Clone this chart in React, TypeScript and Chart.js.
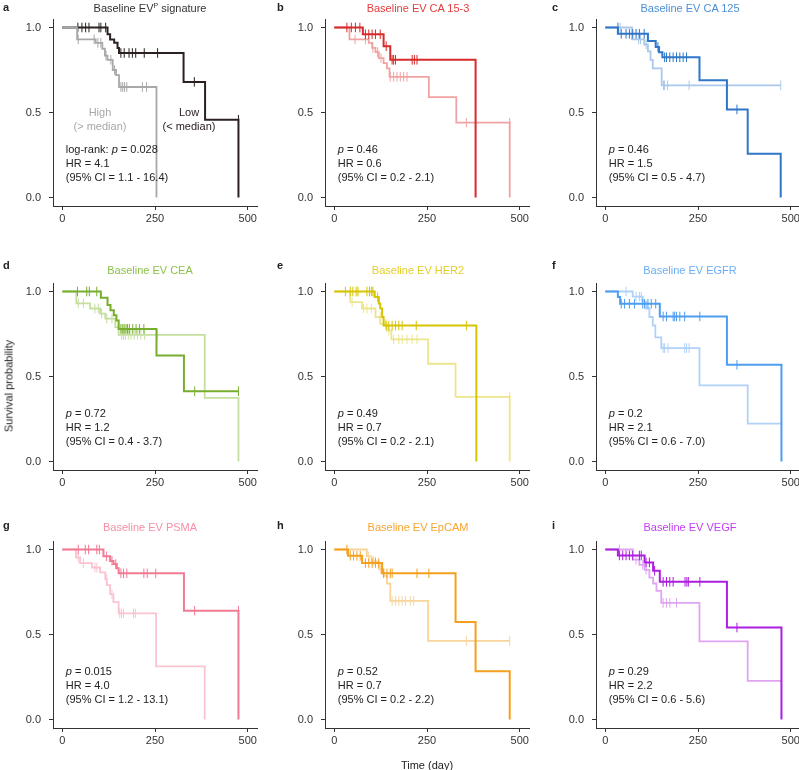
import React, { useEffect, useRef } from 'react';
import { Chart, registerables } from 'chart.js';
Chart.register(...registerables);

const FONT = '"Liberation Sans", Arial, Helvetica, sans-serif';

// Axis ticks
const xTicks = [0, 250, 500];
const yTicks = [0, 0.5, 1];

// ---- Panel a: Baseline EV^P signature ----
const aLowDay = [0, 122, 129, 140, 149, 153, 327, 385, 475];
const aLowSurv = [1, 0.96, 0.93, 0.91, 0.88, 0.85, 0.68, 0.457, 0];
const aLowCensor = [42, 53, 63, 72, 99, 104, 117, 158, 167, 180, 189, 198, 221, 257, 356, 475];
const aHighDay = [0, 40, 90, 108, 115, 122, 136, 145, 153, 254];
const aHighSurv = [1, 0.93, 0.91, 0.875, 0.835, 0.81, 0.75, 0.72, 0.65, 0];
const aHighCensor = [43, 86, 96, 104, 118, 131, 141, 158, 163, 168, 174, 216, 227];

// ---- Panel b: CA 15-3 ----
const bLowDay = [0, 77, 133, 151, 381];
const bLowSurv = [1, 0.96, 0.89, 0.81, 0];
const bLowCensor = [34, 46, 57, 69, 84, 93, 102, 111, 124, 140, 156, 160, 165, 210, 216, 223];
const bHighDay = [0, 41, 93, 102, 111, 120, 133, 142, 149, 255, 329, 473];
const bHighSurv = [1, 0.93, 0.91, 0.88, 0.855, 0.82, 0.79, 0.76, 0.71, 0.59, 0.44, 0];
const bHighCensor = [56, 84, 104, 117, 126, 151, 160, 169, 178, 187, 196, 356, 473];

// ---- Panel c: CA 125 ----
const cLowDay = [0, 34, 115, 136, 145, 154, 254, 328, 384, 473];
const cLowSurv = [1, 0.963, 0.92, 0.885, 0.855, 0.825, 0.69, 0.518, 0.257, 0];
const cLowCensor = [34, 43, 56, 65, 74, 83, 92, 105, 142, 160, 165, 174, 183, 192, 201, 210, 219, 355];
const cHighDay = [0, 72, 105, 115, 122, 128, 152, 473];
const cHighSurv = [1, 0.93, 0.9, 0.86, 0.81, 0.76, 0.66, 0.66];
const cHighCensor = [40, 90, 95, 110, 157, 160, 168, 226, 473];

// ---- Panel d: CEA ----
const dLowDay = [0, 104, 122, 130, 139, 146, 152, 254, 328, 475];
const dLowSurv = [1, 0.963, 0.92, 0.89, 0.86, 0.83, 0.78, 0.624, 0.413, 0.413];
const dLowCensor = [41, 66, 73, 93, 158, 163, 167, 172, 176, 181, 190, 199, 208, 220, 357, 475];
const dHighDay = [0, 38, 75, 102, 116, 143, 152, 384, 475];
const dHighSurv = [1, 0.93, 0.9, 0.87, 0.84, 0.79, 0.745, 0.374, 0];
const dHighCensor = [43, 57, 88, 97, 106, 120, 134, 160, 165, 170, 178, 185, 194, 203, 212, 222, 256];

// ---- Panel e: HER2 ----
const eLowDay = [0, 109, 120, 124, 129, 133, 383];
const eLowSurv = [1, 0.967, 0.93, 0.9, 0.85, 0.8, 0];
const eLowCensor = [30, 43, 50, 59, 64, 88, 95, 100, 104, 117, 140, 147, 156, 165, 174, 183, 221, 356];
const eHighDay = [0, 43, 75, 111, 124, 142, 154, 253, 327, 473];
const eHighSurv = [1, 0.937, 0.9, 0.85, 0.81, 0.77, 0.718, 0.575, 0.38, 0];
const eHighCensor = [48, 79, 88, 100, 124, 138, 147, 160, 174, 183, 196, 210, 223, 473];

// ---- Panel f: EGFR ----
const fLowDay = [0, 34, 40, 147, 328, 475];
const fLowSurv = [1, 0.967, 0.928, 0.853, 0.569, 0];
const fLowCensor = [43, 52, 65, 79, 101, 106, 115, 124, 136, 156, 165, 183, 187, 192, 201, 214, 255, 355];
const fHighDay = [0, 74, 101, 110, 119, 128, 135, 151, 254, 384, 475];
const fHighSurv = [1, 0.97, 0.94, 0.9, 0.85, 0.8, 0.73, 0.667, 0.448, 0.223, 0.223];
const fHighCensor = [56, 83, 92, 97, 156, 160, 169, 214, 219, 226, 475];

// ---- Panel g: PSMA ----
const gLowDay = [0, 111, 129, 138, 147, 152, 328, 475];
const gLowSurv = [1, 0.96, 0.933, 0.914, 0.89, 0.86, 0.64, 0];
const gLowCensor = [43, 62, 71, 93, 100, 119, 134, 144, 158, 165, 174, 220, 229, 252, 357, 475];
const gHighDay = [0, 37, 48, 80, 102, 116, 120, 129, 138, 152, 253, 384];
const gHighSurv = [1, 0.953, 0.92, 0.894, 0.865, 0.825, 0.79, 0.737, 0.69, 0.624, 0.312, 0];
const gHighCensor = [43, 57, 88, 93, 120, 134, 155, 160, 165, 192, 197];

// ---- Panel h: EpCAM ----
const hLowDay = [0, 37, 75, 129, 327, 381, 473];
const hLowSurv = [1, 0.963, 0.92, 0.86, 0.573, 0.284, 0];
const hLowCensor = [34, 43, 52, 61, 70, 84, 93, 102, 111, 120, 133, 142, 151, 156, 223, 255];
const hHighDay = [0, 88, 101, 120, 133, 142, 151, 253, 473];
const hHighSurv = [1, 0.96, 0.93, 0.885, 0.845, 0.8, 0.698, 0.463, 0.463];
const hHighCensor = [93, 106, 111, 124, 156, 165, 174, 183, 192, 205, 214, 356, 473];

// ---- Panel i: VEGF ----
const iLowDay = [0, 34, 106, 129, 147, 328, 475];
const iLowSurv = [1, 0.965, 0.924, 0.875, 0.81, 0.541, 0];
const iLowCensor = [38, 47, 56, 65, 74, 92, 97, 110, 119, 133, 156, 165, 174, 183, 215, 220, 224, 255, 355];
const iHighDay = [0, 74, 92, 106, 119, 129, 138, 151, 254, 384, 475];
const iHighSurv = [1, 0.94, 0.91, 0.88, 0.835, 0.8, 0.757, 0.686, 0.46, 0.227, 0.227];
const iHighCensor = [38, 83, 92, 101, 110, 156, 165, 174, 192, 475];

// Panel text
const panelLetters = ['a', 'b', 'c', 'd', 'e', 'f', 'g', 'h', 'i'];
const panelMarkers = ['', 'CA 15-3', 'CA 125', 'CEA', 'HER2', 'EGFR', 'PSMA', 'EpCAM', 'VEGF'];
const pValues = ['0.028', '0.46', '0.46', '0.72', '0.49', '0.2', '0.015', '0.52', '0.29'];
const hrValues = ['4.1', '0.6', '1.5', '1.2', '0.7', '2.1', '4.0', '0.7', '2.2'];
const ciValues = ['1.1 - 16.4', '0.2 - 2.1', '0.5 - 4.7', '0.4 - 3.7', '0.2 - 2.1', '0.6 - 7.0', '1.2 - 13.1', '0.2 - 2.2', '0.6 - 5.6'];
const lowColors = ['#2b2121', '#d62b2b', '#2f76c8', '#77ae2e', '#d6c400', '#4e9df0', '#f27a93', '#f4a01e', '#ac1ee0'];
const highColors = ['#a8a8a8', '#f1a3a3', '#a9c8ec', '#c4df9f', '#ede58c', '#b0d1f8', '#f9c4d0', '#f9d49b', '#dfa4f2'];
const titleColors = ['#333333', '#e23c3c', '#4a8fd8', '#8cc14a', '#e4cf2a', '#6caef6', '#f890a6', '#f7a533', '#c23ef2'];
// whether the "High" group is drawn above the "Low" group
const highOnTop = [true, false, false, false, false, false, false, false, false];

const curves = [
  [aLowDay, aLowSurv, aLowCensor, aHighDay, aHighSurv, aHighCensor],
  [bLowDay, bLowSurv, bLowCensor, bHighDay, bHighSurv, bHighCensor],
  [cLowDay, cLowSurv, cLowCensor, cHighDay, cHighSurv, cHighCensor],
  [dLowDay, dLowSurv, dLowCensor, dHighDay, dHighSurv, dHighCensor],
  [eLowDay, eLowSurv, eLowCensor, eHighDay, eHighSurv, eHighCensor],
  [fLowDay, fLowSurv, fLowCensor, fHighDay, fHighSurv, fHighCensor],
  [gLowDay, gLowSurv, gLowCensor, gHighDay, gHighSurv, gHighCensor],
  [hLowDay, hLowSurv, hLowCensor, hHighDay, hHighSurv, hHighCensor],
  [iLowDay, iLowSurv, iLowCensor, iHighDay, iHighSurv, iHighCensor],
];

// Layout (chart area left / top for each column / row)
const colLeft = [53, 325, 596];
const rowTop = [19, 283, 541];
const AREA_W = 204;
const AREA_H = 187;
const titleCx = [150, 418, 690];
const titleCy = [7.5, 270, 527];
const letterX = [3, 277, 552];
const letterCy = [7, 265, 525];

function survAt(days: number[], surv: number[], t: number) {
  let s = 1;
  for (let k = 0; k < days.length; k++) {
    if (days[k] < t) s = surv[k];
  }
  return s;
}

function PanelChart({ idx }: { idx: number }) {
  const ref = useRef<HTMLCanvasElement>(null);
  const col = idx % 3;
  const row = Math.floor(idx / 3);
  const L = colLeft[col];
  const T = rowTop[row];
  const padTop = 18;
  const yW = 52;
  const cw = yW + AREA_W + 12;
  const xH = 35;
  const ch = padTop + AREA_H + xH;

  useEffect(() => {
    if (!ref.current) return;
    const [lD, lS, lC, hD, hS, hC] = curves[idx];
    const lowCol = lowColors[idx];
    const highCol = highColors[idx];
    const line = (d: number[], s: number[], color: string, w: number) => ({
      data: d.map((x, k) => ({ x, y: s[k] })),
      borderColor: color,
      borderWidth: w,
      pointRadius: 0,
      stepped: true,
      fill: false,
      tension: 0,
      borderCapStyle: 'butt',
      borderJoinStyle: 'miter',
    });
    const cens = (d: number[], s: number[], c: number[], color: string) => ({
      data: c.map((t) => ({ x: t, y: survAt(d, s, t) })),
      showLine: false,
      pointStyle: 'line',
      rotation: 90,
      pointRadius: 4.8,
      pointBorderWidth: 1,
      borderColor: color,
      backgroundColor: color,
      pointBorderColor: color,
    });
    const lowSets = [cens(lD, lS, lC, lowCol), line(lD, lS, lowCol, 2)];
    const highSets = [cens(hD, hS, hC, highCol), line(hD, hS, highCol, 1.8)];
    const datasets = highOnTop[idx] ? [...highSets, ...lowSets] : [...lowSets, ...highSets];
    const axisColor = '#333333';
    const chart = new Chart(ref.current, {
      type: 'line',
      data: { datasets: datasets as any },
      options: {
        animation: false,
        responsive: false,
        maintainAspectRatio: false,
        devicePixelRatio: 1,
        layout: { padding: { left: 0, top: padTop, right: cw - yW - AREA_W, bottom: 0 } },
        plugins: {
          legend: { display: false },
          tooltip: { enabled: false },
          title: { display: false },
        },
        scales: {
          x: {
            type: 'linear',
            min: -25,
            max: 525,
            afterBuildTicks: (s: any) => {
              s.ticks = xTicks.map((v) => ({ value: v }));
            },
            afterFit: (s: any) => {
              s.height = xH;
            },
            grid: { display: true, drawOnChartArea: false, drawTicks: true, tickLength: 4, color: axisColor, lineWidth: 1 },
            border: { display: true, color: axisColor, width: 1 },
            ticks: {
              color: '#333333',
              font: { size: 11, family: FONT },
              padding: 2,
              maxRotation: 0,
              autoSkip: false,
              callback: (v: any) => String(v),
            },
          },
          y: {
            type: 'linear',
            min: -0.05,
            max: 1.05,
            afterBuildTicks: (s: any) => {
              s.ticks = yTicks.map((v) => ({ value: v }));
            },
            afterFit: (s: any) => {
              s.width = yW;
            },
            grid: { display: true, drawOnChartArea: false, drawTicks: true, tickLength: 4, color: axisColor, lineWidth: 1 },
            border: { display: true, color: axisColor, width: 1 },
            ticks: {
              color: '#333333',
              font: { size: 11, family: FONT },
              padding: 8,
              autoSkip: false,
              callback: (v: any) => Number(v).toFixed(1),
            },
          },
        },
      } as any,
    });
    return () => chart.destroy();
  }, [idx]);

  return (
    <canvas
      ref={ref}
      width={cw}
      height={ch}
      style={{ position: 'absolute', left: L - yW, top: T - padTop, width: cw, height: ch }}
    />
  );
}

const textBase: React.CSSProperties = {
  position: 'absolute',
  fontFamily: FONT,
  fontSize: 11,
  whiteSpace: 'nowrap',
  color: '#222',
};

function PanelText({ idx }: { idx: number }) {
  const col = idx % 3;
  const row = Math.floor(idx / 3);
  const L = colLeft[col];
  const T = rowTop[row];
  const x0 = L + 25 * (AREA_W / 550);
  const y0 = T + 1.05 * (AREA_H / 1.1);
  return (
    <>
      <div style={{ ...textBase, left: letterX[col], top: letterCy[row], transform: 'translateY(-50%)', fontWeight: 'bold', lineHeight: '13px' }}>
        {panelLetters[idx]}
      </div>
      <div
        style={{ ...textBase, left: titleCx[col], top: titleCy[row], transform: 'translate(-50%, -50%)', color: titleColors[idx], lineHeight: '13px' }}
      >
        {idx === 0 ? (
          <span>
            Baseline EV<sup style={{ fontSize: 7, verticalAlign: 'top', lineHeight: '7px' }}>P</sup> signature
          </span>
        ) : (
          'Baseline EV ' + panelMarkers[idx]
        )}
      </div>
      <div style={{ ...textBase, left: x0 + 3.5, top: y0 - 56, lineHeight: '14px' }}>
        <div>
          {idx === 0 ? 'log-rank: ' : ''}
          <i>p</i> = {pValues[idx]}
        </div>
        <div>HR = {hrValues[idx]}</div>
        <div>(95% CI = {ciValues[idx]})</div>
      </div>
      {idx === 0 && (
        <>
          <div style={{ ...textBase, left: 100, top: 106, transform: 'translateX(-50%)', textAlign: 'center', lineHeight: '13.5px', color: '#a8a8a8' }}>
            High
            <br />
            (&gt; median)
          </div>
          <div style={{ ...textBase, left: 189, top: 106, transform: 'translateX(-50%)', textAlign: 'center', lineHeight: '13.5px', color: '#2b2121' }}>
            Low
            <br />
            (&lt; median)
          </div>
        </>
      )}
    </>
  );
}

export default function App() {
  const idxs = [0, 1, 2, 3, 4, 5, 6, 7, 8];
  return (
    <div style={{ position: 'absolute', left: 0, top: 0, width: 799, height: 770, overflow: 'hidden', background: '#fff' }}>
      {idxs.map((i) => (
        <PanelChart key={'c' + i} idx={i} />
      ))}
      {idxs.map((i) => (
        <PanelText key={'t' + i} idx={i} />
      ))}
      <div style={{ ...textBase, left: 9, top: 386, transform: 'translate(-50%, -50%) rotate(-90deg)', lineHeight: '13px' }}>
        Survival probability
      </div>
      <div style={{ ...textBase, left: 427, top: 765, transform: 'translate(-50%, -50%)', lineHeight: '13px' }}>Time (day)</div>
    </div>
  );
}
